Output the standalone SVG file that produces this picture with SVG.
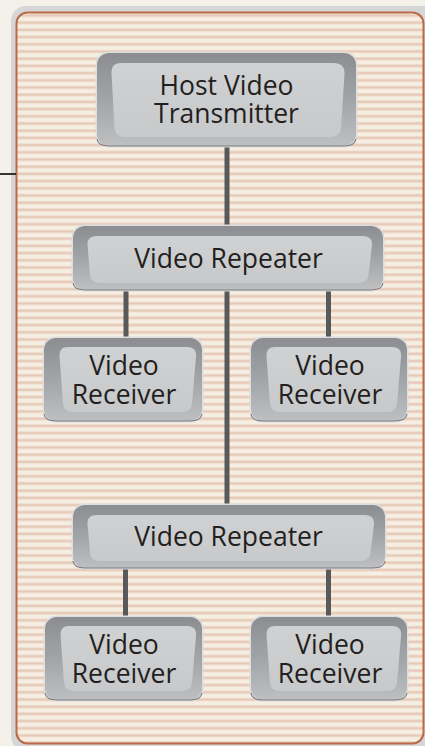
<svg xmlns="http://www.w3.org/2000/svg" width="425" height="746" viewBox="0 0 425 746">
<defs>
<style>
.halo{fill:#dcdddf}
.frame{fill:url(#frameG)}
.face{fill:url(#faceG)}
.edge{fill:none;stroke:#7c7e81;stroke-width:1.2}
.lbl{font-family:"Open Sans","Liberation Sans",sans-serif;font-size:26.5px;fill:#231f20;text-anchor:middle}
.conn{stroke:#58595b;stroke-width:5;fill:none}
</style>
<linearGradient id="frameG" x1="0" y1="0" x2="0" y2="1">
<stop offset="0" stop-color="#8b8d90"/>
<stop offset="0.5" stop-color="#a2a4a7"/>
<stop offset="1" stop-color="#bdbfc1"/>
</linearGradient>
<linearGradient id="faceG" x1="0" y1="0" x2="0" y2="1">
<stop offset="0" stop-color="#d0d1d3"/>
<stop offset="1" stop-color="#c8c9cb"/>
</linearGradient>
<pattern id="stripes" patternUnits="userSpaceOnUse" x="0" y="21" width="20" height="7.2">
<rect width="20" height="7.2" fill="#f6eee3"/>
<rect y="0" width="20" height="3.4" fill="#efdfd1"/>
<rect y="0.6" width="20" height="2.2" fill="#e7cbb8"/>
</pattern>
</defs>
<rect width="425" height="746" fill="#f4f0ea"/>
<rect x="11" y="6" width="430" height="745" rx="15" fill="#d5d6d8"/>
<rect x="16.5" y="12.5" width="407" height="731" rx="11" fill="url(#stripes)" stroke="#b96a48" stroke-width="2"/>
<line x1="0" y1="174" x2="16" y2="174" stroke="#231f20" stroke-width="1.8"/>
<g id="connectors">
<line class="conn" x1="227" y1="146" x2="227" y2="227"/>
<line class="conn" x1="227" y1="289" x2="227" y2="506"/>
<line class="conn" x1="126" y1="289" x2="126" y2="339"/>
<line class="conn" x1="328.5" y1="289" x2="328.5" y2="339"/>
<line class="conn" x1="125.5" y1="567" x2="125.5" y2="618"/>
<line class="conn" x1="328.5" y1="567" x2="328.5" y2="618"/>
</g>
<g id="host">
<rect class="halo" x="95.5" y="51.5" width="262" height="96" rx="13.5"/>
<rect class="frame" x="97" y="53" width="259" height="93" rx="12"/>
<path class="face" d="M121,63 H334 Q345,63 344.5,74 L341,128 Q340,137 330,137 H125 Q115,137 114.5,128 L111.5,73 Q111,63 121,63 Z"/>
<path class="edge" d="M97,139 Q98,146 109,146 H344 Q355,146 356,139"/>
<text class="lbl" x="226.5" y="95">Host Video</text>
<text class="lbl" x="226.5" y="123">Transmitter</text>
</g>
<g id="repeater1">
<rect class="halo" x="71.5" y="224.5" width="313" height="67" rx="13.5"/>
<rect class="frame" x="73" y="226" width="310" height="64" rx="12"/>
<path class="face" d="M97,236 H362 Q373,236 372,245 L368.5,275 Q367.5,283 358,283 H100 Q91,283 90,275 L87.5,245 Q87,236 97,236 Z"/>
<path class="edge" d="M73,283 Q74,290 85,290 H371 Q382,290 383,283"/>
<text class="lbl" x="228.5" y="268">Video Repeater</text>
</g>
<g id="receiver1">
<rect class="halo" x="42.5" y="336.5" width="161" height="86" rx="13.5"/>
<rect class="frame" x="44" y="338" width="158" height="83" rx="12"/>
<path class="face" d="M68,347 H187 Q197,347 196,357 L192,404 Q191,412 182,412 H73 Q64,412 63,404 L59.5,356 Q59,347 68,347 Z"/>
<path class="edge" d="M44,414 Q45,421 56,421 H190 Q201,421 202,414"/>
<text class="lbl" x="124" y="375">Video</text>
<text class="lbl" x="124" y="404">Receiver</text>
</g>
<g id="receiver2">
<rect class="halo" x="249.5" y="336.5" width="159" height="86" rx="13.5"/>
<rect class="frame" x="251" y="338" width="156" height="83" rx="12"/>
<path class="face" d="M275,347 H392 Q402,347 401,357 L397,404 Q396,412 387,412 H280 Q271,412 270,404 L266.5,356 Q266,347 275,347 Z"/>
<path class="edge" d="M251,414 Q252,421 263,421 H395 Q406,421 407,414"/>
<text class="lbl" x="330" y="375">Video</text>
<text class="lbl" x="330" y="404">Receiver</text>
</g>
<g id="repeater2">
<rect class="halo" x="71.5" y="503.5" width="315" height="66" rx="13.5"/>
<rect class="frame" x="73" y="505" width="312" height="63" rx="12"/>
<path class="face" d="M97,515 H364 Q375,515 374,524 L370.5,553 Q369.5,561 360,561 H100 Q91,561 90,553 L87.5,524 Q87,515 97,515 Z"/>
<path class="edge" d="M73,561 Q74,568 85,568 H373 Q384,568 385,561"/>
<text class="lbl" x="228.5" y="546">Video Repeater</text>
</g>
<g id="receiver3">
<rect class="halo" x="43.5" y="615.5" width="160" height="86" rx="13.5"/>
<rect class="frame" x="45" y="617" width="157" height="83" rx="12"/>
<path class="face" d="M69,626 H187 Q197,626 196,636 L192,683 Q191,691 182,691 H74 Q65,691 64,683 L60.5,635 Q60,626 69,626 Z"/>
<path class="edge" d="M45,693 Q46,700 57,700 H190 Q201,700 202,693"/>
<text class="lbl" x="124" y="654">Video</text>
<text class="lbl" x="124" y="683">Receiver</text>
</g>
<g id="receiver4">
<rect class="halo" x="249.5" y="615.5" width="159" height="86" rx="13.5"/>
<rect class="frame" x="251" y="617" width="156" height="83" rx="12"/>
<path class="face" d="M275,626 H392 Q402,626 401,636 L397,683 Q396,691 387,691 H280 Q271,691 270,683 L266.5,635 Q266,626 275,626 Z"/>
<path class="edge" d="M251,693 Q252,700 263,700 H395 Q406,700 407,693"/>
<text class="lbl" x="330" y="654">Video</text>
<text class="lbl" x="330" y="683">Receiver</text>
</g>
</svg>
